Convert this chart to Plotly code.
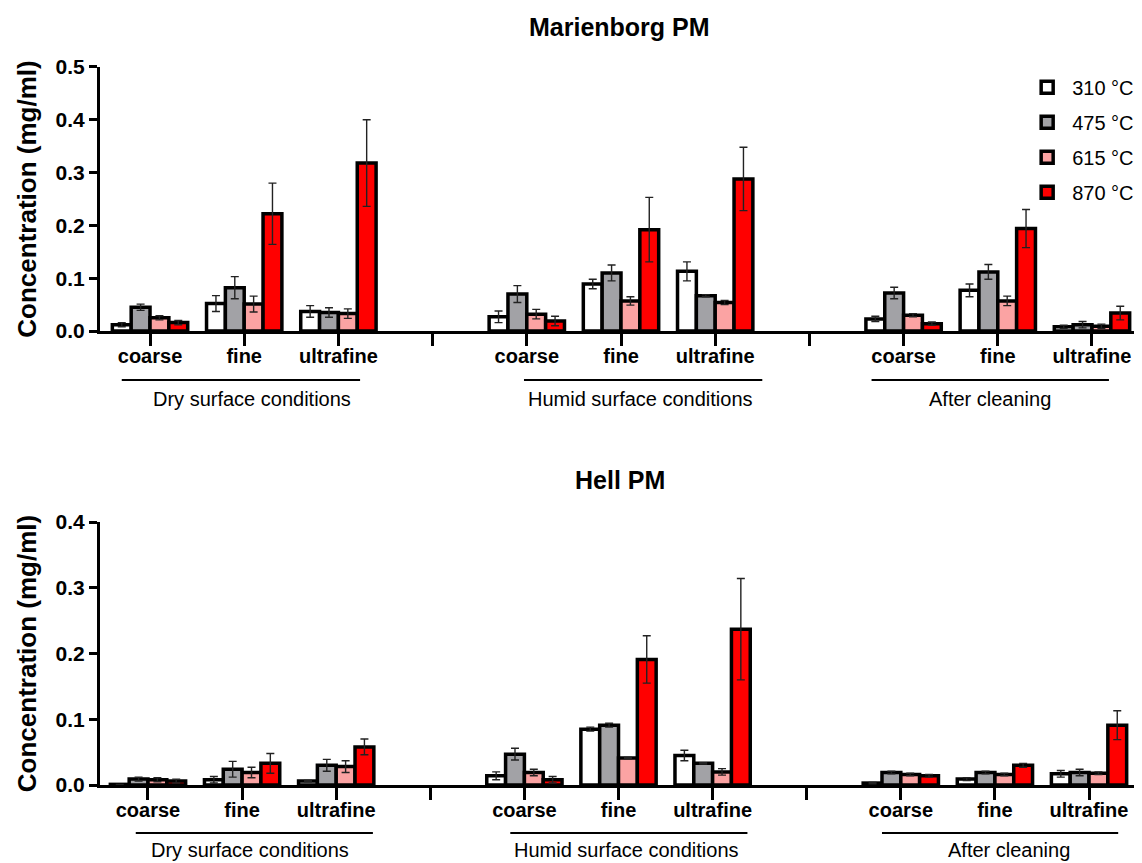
import plotly.graph_objects as go

# ---------------- data ----------------
temps = ["310 °C", "475 °C", "615 °C", "870 °C"]
colors = ["#FFFFFF", "#A2A2A6", "#FBA3A3", "#FF0000"]
# x positions: three conditions x three fractions, with a gap slot between conditions
xpos = [0, 1, 2, 4, 5, 6, 8, 9, 10]
tick_vals = [0, 1, 2, 3, 4, 5, 6, 7, 8, 9, 10]
tick_text = ["coarse", "fine", "ultrafine", "", "coarse", "fine", "ultrafine", "",
             "coarse", "fine", "ultrafine"]
conditions = ["Dry surface conditions", "Humid surface conditions", "After cleaning"]

# Marienborg PM
m310 = [0.012, 0.052, 0.037, 0.027, 0.089, 0.113, 0.023, 0.077, 0.008]
m310e = [0.004, 0.015, 0.011, 0.011, 0.009, 0.018, 0.005, 0.012, 0.003]
m475 = [0.045, 0.082, 0.035, 0.070, 0.110, 0.067, 0.072, 0.112, 0.012]
m475e = [0.006, 0.021, 0.009, 0.016, 0.015, 0.002, 0.011, 0.014, 0.006]
m615 = [0.025, 0.051, 0.033, 0.032, 0.057, 0.054, 0.030, 0.057, 0.009]
m615e = [0.004, 0.015, 0.009, 0.009, 0.008, 0.004, 0.003, 0.009, 0.004]
m870 = [0.016, 0.222, 0.318, 0.019, 0.192, 0.288, 0.014, 0.194, 0.034]
m870e = [0.004, 0.058, 0.082, 0.009, 0.061, 0.060, 0.003, 0.036, 0.013]

# Hell PM
h310 = [0.001, 0.008, 0.006, 0.014, 0.085, 0.045, 0.003, 0.009, 0.017]
h310e = [0.0, 0.005, 0.001, 0.006, 0.003, 0.008, 0.001, 0.002, 0.005]
h475 = [0.009, 0.024, 0.030, 0.047, 0.091, 0.033, 0.019, 0.019, 0.019]
h475e = [0.003, 0.012, 0.009, 0.009, 0.003, 0.001, 0.002, 0.002, 0.005]
h615 = [0.008, 0.019, 0.028, 0.019, 0.041, 0.020, 0.016, 0.016, 0.018]
h615e = [0.003, 0.008, 0.009, 0.005, 0.001, 0.005, 0.002, 0.002, 0.002]
h870 = [0.006, 0.033, 0.058, 0.008, 0.191, 0.237, 0.014, 0.030, 0.091]
h870e = [0.003, 0.015, 0.012, 0.005, 0.036, 0.077, 0.002, 0.003, 0.022]

marienborg = [(m310, m310e), (m475, m475e), (m615, m615e), (m870, m870e)]
hell = [(h310, h310e), (h475, h475e), (h615, h615e), (h870, h870e)]

FONT = "Arial, Liberation Sans, Helvetica, sans-serif"

fig = go.Figure()

def add_bars(series, xa, ya, show):
    for i, (vals, errs) in enumerate(series):
        fig.add_trace(go.Bar(
            x=xpos, y=vals, name=temps[i], xaxis=xa, yaxis=ya,
            offsetgroup=str(i), legendgroup=str(i), showlegend=show,
            marker=dict(color=colors[i], line=dict(color="black", width=3.5)),
            error_y=dict(type="data", array=errs, visible=True,
                         color="#222222", thickness=1.4, width=4),
        ))

add_bars(marienborg, "x", "y", True)
add_bars(hell, "x2", "y2", False)

xcommon = dict(
    tickmode="array", tickvals=tick_vals, ticktext=tick_text,
    ticks="outside", ticklen=12, tickwidth=3, tickcolor="black",
    showline=True, linewidth=3, linecolor="black", showgrid=False, zeroline=False,
    tickfont=dict(family=FONT, size=20, color="black", weight="bold"),
    ticklabelstandoff=-7,
    domain=[0, 1], automargin=False,
)
ycommon = dict(
    ticks="outside", ticklen=8, tickwidth=3, tickcolor="black",
    showline=True, linewidth=3, linecolor="black", showgrid=False, zeroline=False,
    tickformat=".1f", automargin=False,
    tickfont=dict(family=FONT, size=21, color="black", weight="bold"),
    title=dict(text="Concentration (mg/ml)", standoff=12,
               font=dict(family=FONT, size=26, color="black", weight="bold")),
)

fig.update_layout(
    width=1134, height=855,
    margin=dict(l=92, r=0, t=0, b=0, autoexpand=False),
    plot_bgcolor="white", paper_bgcolor="white",
    barmode="group", bargap=0.2, bargroupgap=0,
    xaxis=dict(**xcommon, anchor="y", range=[-0.531, 10.531]),
    yaxis=dict(**ycommon, anchor="x", domain=[0.6222, 0.9310], range=[0, 0.5],
               tickvals=[0, 0.1, 0.2, 0.3, 0.4, 0.5]),
    xaxis2=dict(**xcommon, anchor="y2", range=[-0.51, 10.563]),
    yaxis2=dict(**ycommon, anchor="x2", domain=[0.0912, 0.3988], range=[0, 0.4],
                tickvals=[0, 0.1, 0.2, 0.3, 0.4]),
    legend=dict(x=0.885, y=0.93, xanchor="left", yanchor="top",
                font=dict(family=FONT, size=20, color="black"),
                tracegroupgap=6, bgcolor="rgba(0,0,0,0)", itemwidth=40),
    showlegend=True,
)

# Titles
fig.add_annotation(text="<b>Marienborg PM</b>", xref="paper", yref="paper",
                   x=0.499, y=0.9778, showarrow=False, xanchor="center", yanchor="middle",
                   font=dict(family=FONT, size=25, color="black"))
fig.add_annotation(text="<b>Hell PM</b>", xref="paper", yref="paper",
                   x=0.499, y=0.4480, showarrow=False, xanchor="center", yanchor="middle",
                   font=dict(family=FONT, size=25, color="black"))

# Condition group lines and labels
top_lines = [(-0.30, 2.23), (3.97, 6.50), (7.66, 10.18)]
top_labels = [1.08, 5.21, 8.92]
bot_lines = [(-0.13, 2.39), (3.85, 6.37), (7.80, 10.31)]
bot_labels = [1.08, 5.08, 9.15]

for (x0, x1), lx, cond in zip(top_lines, top_labels, conditions):
    fig.add_shape(type="line", xref="x", yref="paper", x0=x0, x1=x1, y0=0.5649, y1=0.5649,
                  line=dict(color="black", width=2))
    fig.add_annotation(text=cond, xref="x", yref="paper", x=lx, y=0.5427, showarrow=False,
                       xanchor="center", yanchor="middle",
                       font=dict(family=FONT, size=20, color="black"))
for (x0, x1), lx, cond in zip(bot_lines, bot_labels, conditions):
    fig.add_shape(type="line", xref="x2", yref="paper", x0=x0, x1=x1, y0=0.0351, y1=0.0351,
                  line=dict(color="black", width=2))
    fig.add_annotation(text=cond, xref="x2", yref="paper", x=lx, y=0.0152, showarrow=False,
                       xanchor="center", yanchor="middle",
                       font=dict(family=FONT, size=20, color="black"))

fig.write_html("out.html")
